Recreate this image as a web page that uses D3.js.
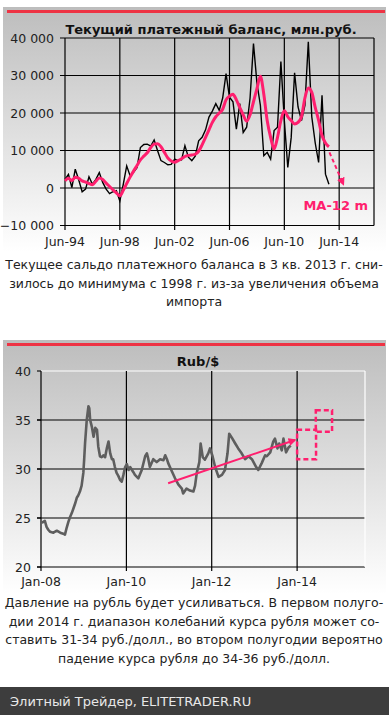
<!DOCTYPE html>
<html><head><meta charset="utf-8">
<script src="https://cdn.jsdelivr.net/npm/d3@7"></script>
<style>
html,body{margin:0;padding:0;background:#fff;}
svg{display:block;font-family:"DejaVu Sans",Verdana,sans-serif;}
</style></head>
<body><svg id="c" width="389" height="715"></svg>
<script>
// ---------- DATA: chart 1 (quarterly, first point Jun-94) ----------
const caStart = "1994-06-01";
const caValues = [2300,3600,100,5000,2200,-1000,-300,3000,1000,2300,4100,1500,-300,-1500,-1000,-700,-3500,
  1000,5900,3300,4200,5400,10800,11600,11700,11200,12800,10000,7300,6800,6200,6300,7700,7300,7500,11300,
  8200,7300,8500,12600,13500,15500,18900,20500,22500,20700,24000,30500,24200,23000,15700,22500,14800,16200,
  24000,38500,28000,22000,8600,9500,7700,15300,16200,33700,18000,5500,13500,30700,21600,18000,22000,39000,
  19000,12000,6800,24700,3700,1000];
const maValues = [1900,2600,2000,2900,2600,1900,1600,1200,900,1800,2700,2300,1300,400,-500,-1300,-2100,
  -600,1200,2900,4500,6000,7500,8500,9400,10800,11700,11800,11000,9500,8000,7200,6900,7300,7800,8400,
  8700,8800,9000,9800,11500,13500,15500,17500,19000,20000,21000,23500,24500,25000,23500,21500,19500,17800,
  19500,23000,26500,29800,25000,18000,13500,10400,13500,18000,20600,19000,18000,17100,17500,19000,24000,26700,
  25500,21500,18000,14000,12000,11000];
const maArrowDates = ["2013-09-15","2014-09-20"];
const maArrowValues = [9500,1000];
const caYTicks = [-10000,0,10000,20000,30000,40000];
const caXTicks = ["1994-06-01","1998-06-01","2002-06-01","2006-06-01","2010-06-01","2014-06-01"];

// ---------- DATA: chart 2 (Rub/$), dates as decimal years ----------
const rubYears = [2008.02,2008.05,2008.09,2008.13,2008.17,2008.21,2008.29,2008.37,2008.45,2008.52,2008.56,
  2008.60,2008.64,2008.68,2008.72,2008.76,2008.80,2008.84,2008.87,2008.91,2008.95,2008.99,2009.01,2009.03,
  2009.07,2009.11,2009.13,2009.15,2009.19,2009.23,2009.27,2009.31,2009.34,2009.38,2009.42,2009.46,2009.50,
  2009.54,2009.58,2009.62,2009.66,2009.69,2009.73,2009.77,2009.81,2009.85,2009.89,2009.93,2009.97,2010.01,
  2010.05,2010.09,2010.13,2010.16,2010.20,2010.28,2010.36,2010.44,2010.48,2010.51,2010.55,2010.63,2010.71,
  2010.79,2010.87,2010.91,2010.95,2010.98,2011.02,2011.14,2011.22,2011.30,2011.33,2011.41,2011.49,2011.57,
  2011.61,2011.65,2011.71,2011.74,2011.79,2011.84,2011.92,2011.96,2012.02,2012.08,2012.16,2012.24,2012.31,
  2012.37,2012.41,2012.47,2012.55,2012.62,2012.70,2012.78,2012.86,2012.94,2013.04,2013.09,2013.17,2013.25,
  2013.29,2013.37,2013.44,2013.48,2013.54,2013.58,2013.64,2013.68,2013.74,2013.80,2013.85];
const rubValues = [24.5,24.6,24.7,24.1,23.8,23.6,23.5,23.7,23.5,23.4,23.3,
  24.0,24.6,25.1,25.5,26.0,26.5,27.1,27.3,27.7,28.3,29.6,31.0,32.6,
  35.0,36.4,36.2,35.0,34.3,33.3,34.2,34.0,32.3,31.3,31.2,31.4,31.2,
  32.1,32.8,31.6,31.0,31.0,30.2,29.6,29.3,28.9,28.7,29.4,30.2,30.5,
  29.9,30.2,29.9,29.7,29.4,29.05,29.9,31.3,31.6,31.1,30.2,31.0,30.7,
  31.0,30.9,31.4,31.0,30.6,30.2,29.05,28.4,28.0,27.5,28.0,27.8,27.7,
  28.3,29.6,30.7,32.6,31.2,30.95,31.6,32.1,31.3,30.2,29.2,29.4,29.9,
  31.6,33.6,33.2,32.6,32.1,31.6,31.0,31.3,31.0,30.2,29.9,30.6,31.4,
  31.3,31.7,32.8,33.1,32.1,32.6,31.9,33.1,31.7,32.2,32.4];
const trendDates = ["2010-12-24","2013-12-14"];
const trendValues = [28.54,32.96];
const box1 = {from:"2014-01-01", to:"2014-06-12", lo:31, hi:34};
const box2 = {from:"2014-06-10", to:"2014-10-27", lo:33.8, hi:36};
const rubYTicks = [20,25,30,35,40];
const rubXTicks = ["2008-01-01","2010-01-01","2012-01-01","2014-01-01"];

// ---------- TEXT ----------
const title1 = "Текущий платежный баланс, млн.руб.";
const caption1 = ["Текущее сальдо платежного баланса в 3 кв. 2013 г. сни-",
  "зилось до минимума с 1998 г. из-за увеличения объема","импорта"];
const title2 = "Rub/$";
const caption2 = ["Давление на рубль будет усиливаться. В первом полуго-",
  "дии 2014 г. диапазон колебаний курса рубля может со-",
  "ставить 31-34 руб./долл., во втором полугодии вероятно",
  "падение курса рубля до 34-36 руб./долл."];
const footer = "Элитный Трейдер, ELITETRADER.RU";

// ---------- DRAW ----------
const P = d3.timeParse("%Y-%m-%d");
const yearToDate = y => { const yr = Math.floor(y); const s = new Date(yr,0,1), e = new Date(yr+1,0,1);
  return new Date(+s + (y-yr)*(e-s)); };
const svg = d3.select("#c");
const PINK = "#ff1f6e";
const defs = svg.append("defs");
const g = defs.append("linearGradient").attr("id","bg").attr("x1",0).attr("y1",0).attr("x2",0).attr("y2",1);
g.append("stop").attr("offset","0%").attr("stop-color","#bdbdbd");
g.append("stop").attr("offset","100%").attr("stop-color","#ffffff");
defs.append("marker").attr("id","ah").attr("viewBox","0 0 10 10").attr("refX",8).attr("refY",5)
  .attr("markerWidth",4).attr("markerHeight",4).attr("orient","auto")
  .append("path").attr("d","M0,0L10,5L0,10z").attr("fill",PINK);

function panel(y0,y1){
  svg.append("rect").attr("x",3).attr("y",y0).attr("width",383).attr("height",y1-y0).attr("fill","url(#bg)");
  svg.append("rect").attr("x",7).attr("y",y0+3).attr("width",378).attr("height",3).attr("fill","#ee3344");
}
panel(7,252);
panel(340,594);

// chart 1
const x1 = d3.scaleTime().domain([P("1994-06-01"),P("2016-12-15")]).range([65,374]);
const y1 = d3.scaleLinear().domain([-10000,40000]).range([225.5,38]);
const ca = svg.append("g");
const fmt = v => d3.format(",")(v).replace(/,/g," ");
ca.append("g").selectAll("line").data(caYTicks).join("line")
  .attr("x1",60).attr("x2",374).attr("y1",d=>y1(d)).attr("y2",d=>y1(d)).attr("stroke","#000").attr("stroke-width",1.2);
ca.append("g").selectAll("line").data(caXTicks).join("line")
  .attr("x1",d=>x1(P(d))).attr("x2",d=>x1(P(d))).attr("y1",38).attr("y2",230).attr("stroke","#000").attr("stroke-width",1.2);
ca.append("line").attr("x1",374).attr("x2",374).attr("y1",38).attr("y2",225.5).attr("stroke","#000").attr("stroke-width",1.2);
ca.append("g").selectAll("text").data(caYTicks).join("text")
  .attr("x",54).attr("y",d=>y1(d)+4.5).attr("text-anchor","end").attr("font-size",12.5).attr("fill","#222")
  .text(d=>fmt(d));
ca.append("g").selectAll("text").data(caXTicks).join("text")
  .attr("x",d=>x1(P(d))).attr("y",246).attr("text-anchor","middle").attr("font-size",12.5).attr("fill","#222")
  .text(d=>d3.timeFormat("%b-%y")(P(d)));
ca.append("text").attr("x",211).attr("y",34).attr("text-anchor","middle").attr("font-size",13)
  .attr("font-weight","bold").attr("fill","#111").text(title1);
const caDate = i => d3.timeMonth.offset(P(caStart), 3*i);
ca.append("path").datum(caValues).attr("fill","none").attr("stroke","#000").attr("stroke-width",1.4)
  .attr("d",d3.line().x((d,i)=>x1(caDate(i))).y(d=>y1(d)));
ca.append("path").datum(maValues).attr("fill","none").attr("stroke",PINK).attr("stroke-width",3)
  .attr("d",d3.line().curve(d3.curveMonotoneX).x((d,i)=>x1(caDate(i))).y(d=>y1(d)));
ca.append("line").attr("x1",x1(P(maArrowDates[0]))).attr("y1",y1(maArrowValues[0]))
  .attr("x2",x1(P(maArrowDates[1]))).attr("y2",y1(maArrowValues[1]))
  .attr("stroke",PINK).attr("stroke-width",2).attr("stroke-dasharray","4,3").attr("marker-end","url(#ah)");
ca.append("text").attr("x",368).attr("y",210).attr("text-anchor","end").attr("font-size",13)
  .attr("font-weight","bold").attr("fill",PINK).text("MA-12 m");
svg.append("g").selectAll("text").data(caption1).join("text")
  .attr("x",194).attr("y",(d,i)=>269+i*18.5).attr("text-anchor","middle").attr("font-size",12.5).attr("fill","#222").text(d=>d);

// chart 2
const x2 = d3.scaleTime().domain([P("2008-01-01"),P("2015-08-05")]).range([41,365]);
const y2 = d3.scaleLinear().domain([20,40]).range([567,371]);
const rb = svg.append("g");
rb.append("g").selectAll("line").data(rubYTicks).join("line")
  .attr("x1",37).attr("x2",365).attr("y1",d=>y2(d)).attr("y2",d=>y2(d))
  .attr("stroke",d=>d===40?"#fff":"#000").attr("stroke-width",1.2);
rb.append("g").selectAll("line").data(rubYTicks).join("line")
  .attr("x1",37).attr("x2",41).attr("y1",d=>y2(d)).attr("y2",d=>y2(d)).attr("stroke","#000").attr("stroke-width",1.2);
rb.append("line").attr("x1",365).attr("x2",365).attr("y1",371).attr("y2",567).attr("stroke","#fff").attr("stroke-width",1.2);
rb.append("g").selectAll("line").data(rubXTicks).join("line")
  .attr("x1",d=>x2(P(d))).attr("x2",d=>x2(P(d))).attr("y1",371).attr("y2",571).attr("stroke","#000").attr("stroke-width",1.2);
rb.append("g").selectAll("text").data(rubYTicks).join("text")
  .attr("x",31).attr("y",d=>y2(d)+4.5).attr("text-anchor","end").attr("font-size",12.5).attr("fill","#222").text(d=>d);
rb.append("g").selectAll("text").data(rubXTicks).join("text")
  .attr("x",d=>x2(P(d))).attr("y",586).attr("text-anchor","middle").attr("font-size",12.5).attr("fill","#222")
  .text(d=>d3.timeFormat("%b-%y")(P(d)));
rb.append("text").attr("x",198).attr("y",366).attr("text-anchor","middle").attr("font-size",13)
  .attr("font-weight","bold").attr("fill","#111").text(title2);
rb.append("path").datum(rubValues).attr("fill","none").attr("stroke","#5e5e5e").attr("stroke-width",2.6)
  .attr("stroke-linejoin","round").attr("d",d3.line().x((d,i)=>x2(yearToDate(rubYears[i]))).y(d=>y2(d)));
rb.append("line").attr("x1",x2(P(trendDates[0]))).attr("y1",y2(trendValues[0]))
  .attr("x2",x2(P(trendDates[1]))).attr("y2",y2(trendValues[1]))
  .attr("stroke",PINK).attr("stroke-width",2).attr("marker-end","url(#ah)");
[box1,box2].forEach(b=>{
  rb.append("rect").attr("x",x2(P(b.from))).attr("y",y2(b.hi)).attr("width",x2(P(b.to))-x2(P(b.from)))
    .attr("height",y2(b.lo)-y2(b.hi)).attr("fill","none").attr("stroke",PINK).attr("stroke-width",2.5)
    .attr("stroke-dasharray","5,3");
});
svg.append("g").selectAll("text").data(caption2).join("text")
  .attr("x",194).attr("y",(d,i)=>607+i*18.5).attr("text-anchor","middle").attr("font-size",12.5).attr("fill","#222").text(d=>d);

// footer
svg.append("rect").attr("x",0).attr("y",687).attr("width",389).attr("height",28).attr("fill","#3d3d3d");
svg.append("text").attr("x",10).attr("y",706).attr("font-size",13).attr("fill","#e8e8e8").text(footer);
</script></body></html>
